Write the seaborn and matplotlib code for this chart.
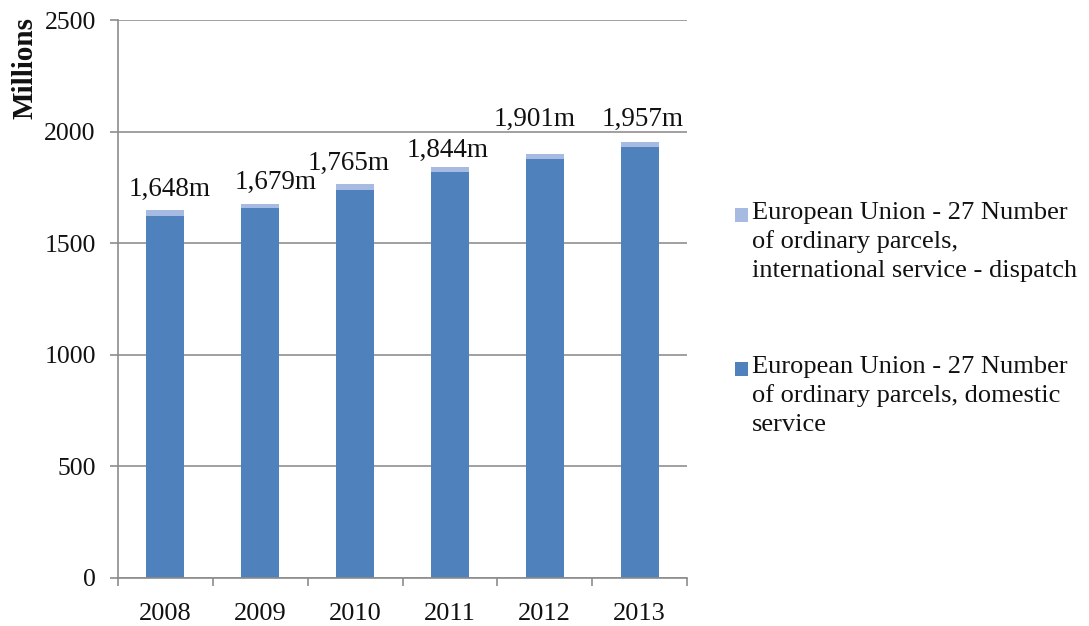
import matplotlib
matplotlib.use("Agg")
import matplotlib.pyplot as plt
from matplotlib.patches import Rectangle
import seaborn as sns
import numpy as np

# Data (millions of parcels, EU-27)
years = ["2008", "2009", "2010", "2011", "2012", "2013"]
domestic = [1624, 1657, 1742, 1821, 1877, 1932]
international = [24, 22, 23, 23, 24, 25]

label_intl = "European Union - 27 Number\nof ordinary parcels,\ninternational service - dispatch"
label_domestic = "European Union - 27 Number\nof ordinary parcels, domestic\nservice"

totals = np.array(domestic) + np.array(international)

dark_blue = "#4F81BD"
light_blue = "#A7BBE2"
axis_grey = "#8C8C8C"
text_col = "#111111"

sns.set_theme(style="white")
plt.rcParams["font.family"] = ["Liberation Serif", "DejaVu Serif"]

fig = plt.figure(figsize=(10.89, 6.26), dpi=100)
ax = fig.add_axes([0.1084, 0.0767, 0.5225, 0.8906])

# stacked bars: total in light blue, domestic drawn over it in dark blue
sns.barplot(x=years, y=totals, color=light_blue, saturation=1, width=0.4,
            linewidth=0, edgecolor="none", ax=ax)
sns.barplot(x=years, y=domestic, color=dark_blue, saturation=1, width=0.4,
            linewidth=0, edgecolor="none", ax=ax)

ax.set_ylim(0, 2500)
ax.set_xlim(-0.5, 5.5)
ax.set_yticks(range(0, 2501, 500))
ax.yaxis.grid(True, color="#A0A0A0", linewidth=1.4)
ax.set_axisbelow(True)

for side in ["top", "right"]:
    ax.spines[side].set_visible(False)
for side in ["left", "bottom"]:
    ax.spines[side].set_color(axis_grey)
    ax.spines[side].set_linewidth(1.2)

ax.tick_params(axis="y", direction="out", length=6, width=1.2, color=axis_grey,
               left=True, labelsize=18.5, pad=10, labelcolor=text_col)
ax.tick_params(axis="x", which="major", length=0, labelsize=19, pad=18,
               labelcolor=text_col)
ax.set_xticks(np.arange(-0.5, 6, 1), minor=True)
ax.tick_params(axis="x", which="minor", direction="out", length=6, width=1.2,
               color=axis_grey, bottom=True)
ax.set_xlabel("")
ax.set_ylabel("")

# total labels above each bar (Excel nudges them a bit)
nudges = [(3, 15), (11, 15), (-5, 15), (-2, 12), (-7, 25), (2, 16)]
for i, tot in enumerate(totals):
    ax.annotate(f"{tot:,}m", xy=(i, tot), xytext=nudges[i], textcoords="offset points",
                ha="center", va="center", fontsize=19.5, color=text_col)

ax.text(-0.163, 0.915, "Millions", transform=ax.transAxes, rotation=90,
        ha="center", va="center", fontsize=21, fontweight="bold", color=text_col)

# legend, Excel style: square aligned with the first text line
legend_items = [(light_blue, label_intl, 202), (dark_blue, label_domestic, 356)]
for col, txt, top_px in legend_items:
    fig.text(752 / 1089, 1 - top_px / 626, txt, ha="left", va="top",
             fontsize=19, linespacing=1.36, color=text_col)
    fig.patches.append(Rectangle((735 / 1089, 1 - (top_px + 20) / 626), 13 / 1089, 14 / 626,
                                 transform=fig.transFigure, facecolor=col,
                                 edgecolor="none"))

plt.savefig("out.png", dpi=100)
